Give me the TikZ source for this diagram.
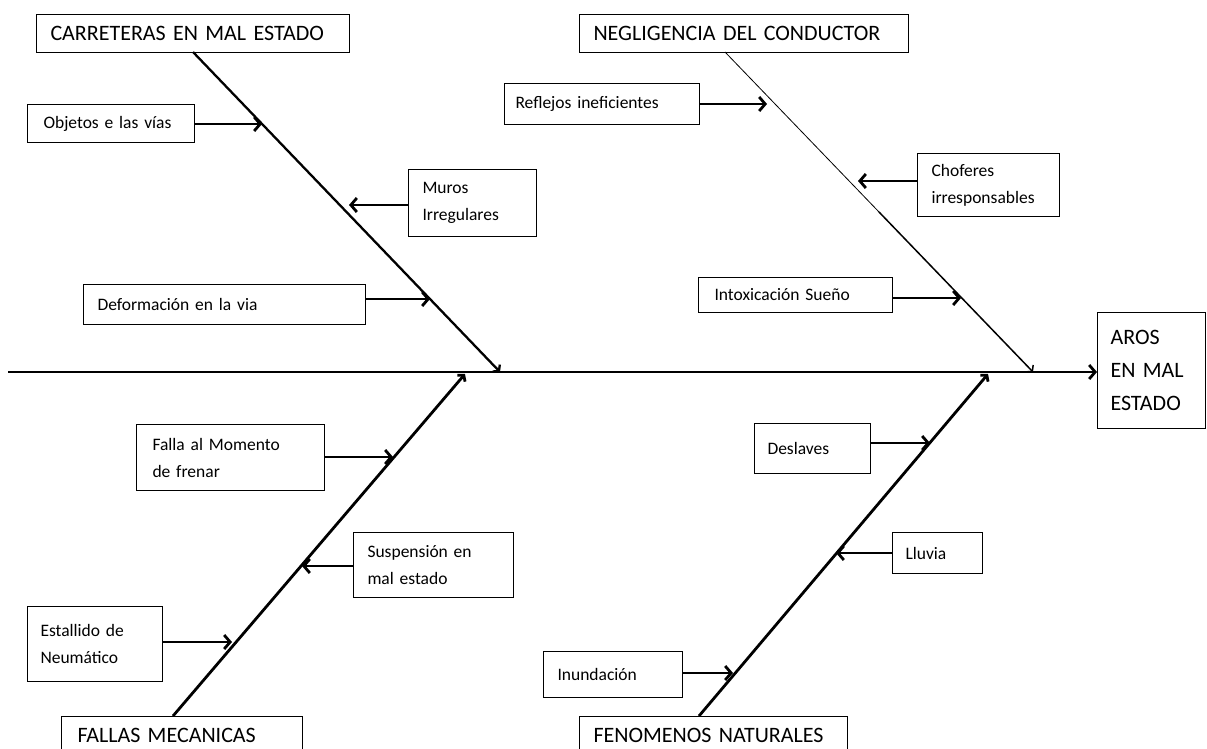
\documentclass[tikz,border=0pt]{standalone}
\usepackage{fontspec}
\setmainfont{Carlito}
\usetikzlibrary{arrows.meta}
\begin{document}
\begin{tikzpicture}[x=1pt,y=-1pt,
  cbox/.style={draw, line width=1pt, inner xsep=14pt, inner ysep=0pt, align=left, anchor=north west, font=\fontsize{17.5}{27}\selectfont},
  tbox/.style={cbox, font=\fontsize{22}{33}\selectfont},
  bone/.style={line width=2.3pt, -{Straight Barb[length=4pt,width=10pt]}},
  subarrow/.style={line width=2.8pt, -{Straight Barb[length=6pt,width=14pt]}}]
\useasboundingbox (0,0) rectangle (1207,749);
\clip (0,0) rectangle (1207,749);

% category boxes
\node[tbox, text width=285pt, minimum height=38pt] (c1) at (36,14) {CARRETERAS EN MAL ESTADO};
\node[tbox, text width=301pt, minimum height=38pt] (c2) at (579,14) {NEGLIGENCIA DEL CONDUCTOR};
\node[tbox, inner xsep=16pt, text width=209pt, minimum height=38pt] (c3) at (61,716) {FALLAS MECANICAS};
\node[tbox, text width=240pt, minimum height=38pt] (c4) at (579,716) {FENOMENOS NATURALES};

% effect
\node[tbox, inner xsep=13pt, text width=82pt, minimum height=116pt] (eff) at (1097,312) {AROS\\EN MAL\\ESTADO};

% sub-causes
\node[cbox, inner xsep=16pt, text width=135pt, minimum height=38pt] (o1) at (27,104) {Objetos e las vías};
\node[cbox, text width=100pt, minimum height=67pt] (o2) at (408,169) {Muros\\Irregulares};
\node[cbox, text width=254pt, minimum height=40pt] (o3) at (83,284) {Deformación en la via};
\node[cbox, inner xsep=11pt, text width=173pt, minimum height=41pt] (o4) at (504,83) {Reflejos ineficientes};
\node[cbox, text width=114pt, minimum height=63pt] (o5) at (917,153) {Choferes\\irresponsables};
\node[cbox, inner xsep=16pt, text width=162pt, minimum height=35pt] (o6) at (698,277) {Intoxicación Sueño};
\node[cbox, inner xsep=16pt, text width=156pt, minimum height=66pt] (o7) at (136,424) {Falla al Momento\\de frenar};
\node[cbox, text width=132pt, minimum height=65pt] (o8) at (353,532) {Suspensión en\\mal estado};
\node[cbox, inner xsep=13pt, text width=109pt, minimum height=75pt] (o9) at (27,606) {Estallido de\\Neumático};
\node[cbox, inner xsep=13pt, text width=90pt, minimum height=50pt] (o10) at (754,423) {Deslaves};
\node[cbox, inner xsep=13pt, text width=64pt, minimum height=41pt] (o11) at (892,532) {Lluvia};
\node[cbox, text width=111pt, minimum height=46pt] (o12) at (543,651) {Inundación};

% spine
\coordinate (s0) at (8,372);
\draw[line width=2.8pt, -{Straight Barb[length=6pt,width=14pt]}] (s0) -- (eff.west |- s0);

% bones
\coordinate (b1s) at (193,52);
\coordinate (b1e) at (500,372);
\draw[bone] (b1s) -- (b1e);
\coordinate (b2s) at (725,52);
\coordinate (b2m) at (879,212);
\coordinate (b2e) at (1033,372);
\draw[line width=0.8pt] (b2s) -- (b2m);
\draw[line width=1.5pt, -{Straight Barb[length=4pt,width=10pt]}] (b2m) -- (b2e);
\coordinate (b3s) at (173,716);
\coordinate (b3e) at (465,374);
\draw[bone, line width=2.8pt] (b3s) -- (b3e);
\coordinate (b4s) at (699,716);
\coordinate (b4e) at (988,374);
\draw[bone, line width=2.8pt] (b4s) -- (b4e);

% sub-cause arrow tips
\coordinate (a1) at (262,124);
\coordinate (a2) at (349,205);
\coordinate (a3) at (430,299);
\coordinate (a4) at (767,104);
\coordinate (a5) at (858,181);
\coordinate (a6) at (961,298);
\coordinate (a7) at (393,457);
\coordinate (a8) at (302,566);
\coordinate (a9) at (232,642);
\coordinate (a10) at (930,443);
\coordinate (a11) at (836,553);
\coordinate (a12) at (733,673);

\draw[subarrow] (o1.east |- a1) -- (a1);
\draw[subarrow] (o2.west |- a2) -- (a2);
\draw[subarrow] (o3.east |- a3) -- (a3);
\draw[subarrow] (o4.east |- a4) -- (a4);
\draw[subarrow] (o5.west |- a5) -- (a5);
\draw[subarrow] (o6.east |- a6) -- (a6);
\draw[subarrow] (o7.east |- a7) -- (a7);
\draw[subarrow] (o8.west |- a8) -- (a8);
\draw[subarrow] (o9.east |- a9) -- (a9);
\draw[subarrow] (o10.east |- a10) -- (a10);
\draw[subarrow] (o11.west |- a11) -- (a11);
\draw[subarrow] (o12.east |- a12) -- (a12);
\end{tikzpicture}
\end{document}
